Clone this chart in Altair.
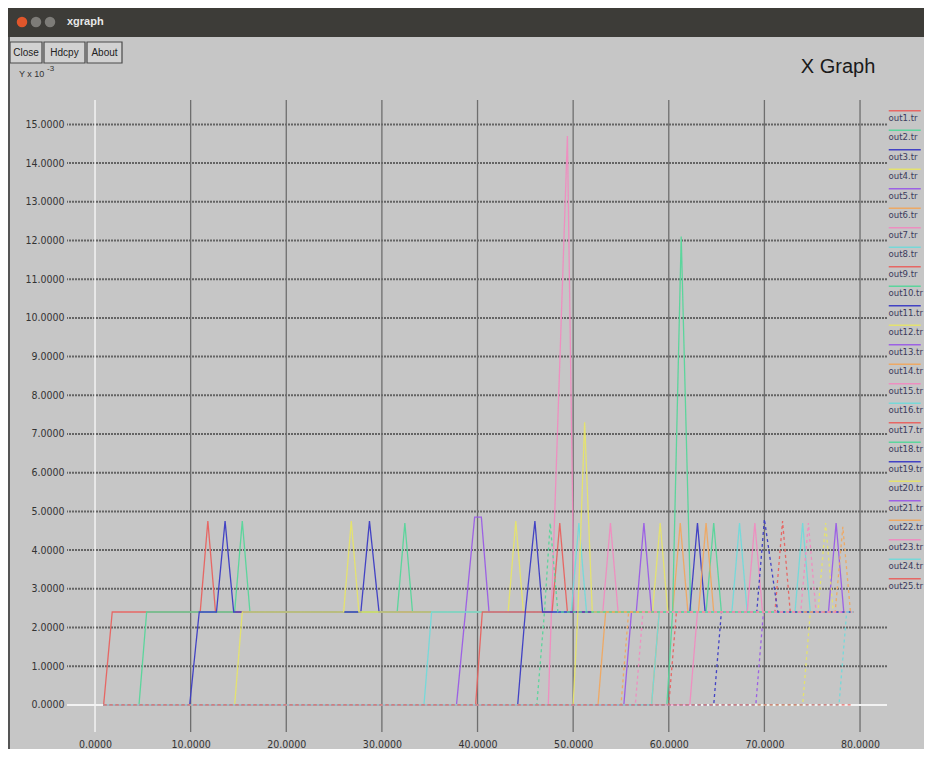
import altair as alt
import pandas as pd

# ---------------- data ----------------
series_names = [f"out{i}.tr" for i in range(1, 26)]

out1_x = [0.9, 1.8, 11.0, 11.8, 12.6, 79.3]
out1_y = [0, 2.4, 2.4, 4.75, 2.4, 2.4]
out2_x = [0.9, 4.6, 5.4, 14.6, 15.4, 16.2, 31.6, 32.4, 33.2, 79.3]
out2_y = [0, 0, 2.4, 2.4, 4.75, 2.4, 2.4, 4.7, 2.4, 2.4]
out3_x = [0.9, 9.9, 10.9, 12.7, 13.6, 14.5, 27.8, 28.7, 29.7, 79.3]
out3_y = [0, 0, 2.4, 2.4, 4.75, 2.4, 2.4, 4.75, 2.4, 2.4]
out4_x = [0.9, 14.6, 15.4, 26.0, 26.8, 27.6, 43.2, 44.0, 44.8, 79.3]
out4_y = [0, 0, 2.4, 2.4, 4.75, 2.4, 2.4, 4.75, 2.4, 2.4]
out5_x = [0.9, 37.8, 39.7, 40.4, 41.2, 79.3]
out5_y = [0, 0, 4.85, 4.85, 2.4, 2.4]
out6_x = [0.9, 58.2, 59.0, 60.4, 61.2, 62.0, 79.3]
out6_y = [0, 0, 2.4, 2.4, 4.7, 2.4, 2.4]
out7_x = [0.9, 47.4, 49.4, 50.1, 53.1, 53.9, 54.7, 79.3]
out7_y = [0, 0, 14.7, 2.4, 2.4, 4.7, 2.4, 2.4]
out8_x = [0.9, 34.4, 35.2, 49.8, 50.6, 51.4, 66.6, 67.4, 68.2, 79.3]
out8_y = [0, 0, 2.4, 2.4, 4.7, 2.4, 2.4, 4.7, 2.4, 2.4]
out9_x = [0.9, 39.8, 40.5, 47.8, 48.6, 49.4, 79.3]
out9_y = [0, 0, 2.4, 2.4, 4.7, 2.4, 2.4]
out10_x = [0.9, 59.8, 60.4, 61.3, 62.3, 63.9, 64.7, 65.5, 79.3]
out10_y = [0, 0, 2.4, 12.1, 2.4, 2.4, 4.7, 2.4, 2.4]
out11_x = [0.9, 44.2, 45.0, 46.0, 46.8, 62.2, 63.0, 63.8, 79.3]
out11_y = [0, 0, 2.4, 4.75, 2.4, 2.4, 4.7, 2.4, 2.4]
out12_x = [0.9, 50.0, 50.5, 51.2, 52.0, 58.3, 59.1, 59.9, 79.3]
out12_y = [0, 0, 2.4, 7.3, 2.4, 2.4, 4.7, 2.4, 2.4]
out13_x = [0.9, 55.3, 56.1, 56.6, 57.4, 58.2, 76.7, 77.5, 78.3, 79.3]
out13_y = [0, 0, 2.4, 2.4, 4.7, 2.4, 2.4, 4.7, 2.4, 2.4]
out14_x = [0.9, 52.6, 53.4, 63.1, 63.9, 64.7, 79.3]
out14_y = [0, 0, 2.4, 2.4, 4.7, 2.4, 2.4]
out15_x = [0.9, 62.2, 63.0, 68.2, 69.0, 69.8, 79.3]
out15_y = [0, 0, 2.4, 2.4, 4.7, 2.4, 2.4]
out16_x = [0.9, 58.2, 59.0, 73.2, 74.0, 74.8, 79.3]
out16_y = [0, 0, 2.4, 2.4, 4.7, 2.4, 2.4]
out17_x = [0.9, 60.0, 60.8, 71.1, 71.9, 72.7, 79.3]
out17_y = [0, 0, 2.4, 2.4, 4.75, 2.4, 2.4]
out18_x = [0.9, 46.2, 47.0, 47.6, 48.4, 79.3]
out18_y = [0, 0, 2.4, 4.7, 2.4, 2.4]
out19_x = [0.9, 64.7, 65.5, 69.2, 70.0, 71.4, 79.3]
out19_y = [0, 0, 2.4, 2.4, 4.8, 2.4, 2.4]
out20_x = [0.9, 74.0, 74.8, 75.6, 76.4, 77.2, 79.3]
out20_y = [0, 0, 2.4, 2.4, 4.7, 2.4, 2.4]
out21_x = [0.9, 69.1, 69.9, 79.3]
out21_y = [0, 0, 2.4, 2.4]
out22_x = [0.9, 55.0, 55.8, 77.4, 78.2, 79.0, 79.3]
out22_y = [0, 0, 2.4, 2.4, 4.6, 2.4, 2.4]
out23_x = [0.9, 56.5, 57.3, 73.8, 74.6, 75.4, 79.3]
out23_y = [0, 0, 2.4, 2.4, 4.7, 2.4, 2.4]
out24_x = [0.9, 77.8, 78.6, 79.3]
out24_y = [0, 0, 2.4, 2.4]
out25_x = [0.9, 79.3]
out25_y = [0, 0]

all_x = [out1_x, out2_x, out3_x, out4_x, out5_x, out6_x, out7_x, out8_x, out9_x,
         out10_x, out11_x, out12_x, out13_x, out14_x, out15_x, out16_x, out17_x,
         out18_x, out19_x, out20_x, out21_x, out22_x, out23_x, out24_x, out25_x]
all_y = [out1_y, out2_y, out3_y, out4_y, out5_y, out6_y, out7_y, out8_y, out9_y,
         out10_y, out11_y, out12_y, out13_y, out14_y, out15_y, out16_y, out17_y,
         out18_y, out19_y, out20_y, out21_y, out22_y, out23_y, out24_y, out25_y]

x_ticks = [0, 10, 20, 30, 40, 50, 60, 70, 80]
y_ticks = list(range(0, 16))

palette = ["#e8625f", "#56d69a", "#3b3bc4", "#e6e46a",
           "#9a5ce6", "#f0a860", "#f08cc0", "#72dada"]
colors = [palette[i % 8] for i in range(25)]
dashes = [[1, 0]] * 16 + [[3, 3]] * 9

rows = []
for name, xs, ys in zip(series_names, all_x, all_y):
    for a, b in zip(xs, ys):
        rows.append({"series": name, "t": a, "v": b})
df = pd.DataFrame(rows)

# ---------------- layout ----------------
X_DOM = [-2.93, 82.82]
Y_DOM = [-0.70, 15.63]
xs_ = alt.Scale(domain=X_DOM, nice=False, zero=False)
ys_ = alt.Scale(domain=Y_DOM, nice=False, zero=False)

one = pd.DataFrame({"a": [0]})
FONT = "Liberation Sans"
NARROW = "Liberation Sans Narrow, DejaVu Sans Condensed, Liberation Sans"

x_axis = alt.Axis(values=x_ticks, format=".4f", grid=False, domain=False,
                  ticks=False, title=None, labelFontSize=10.5,
                  labelColor="#333333", labelPadding=7, labelFont=NARROW,
                  labelFlush=False)
y_axis = alt.Axis(values=y_ticks, format=".4f", grid=False, domain=False,
                  ticks=False, title=None, labelFontSize=10.5,
                  labelColor="#333333", labelPadding=3, labelFont=NARROW)

# grid
hgrid = alt.Chart(pd.DataFrame({"y": y_ticks[1:]})).mark_rule(
    color="#646464", strokeWidth=2, strokeDash=[2, 1]
).encode(y=alt.Y("y:Q", scale=ys_, axis=y_axis))
vgrid = alt.Chart(pd.DataFrame({"x": x_ticks[1:]})).mark_rule(
    color="#6e6e6e", strokeWidth=1.3
).encode(x=alt.X("x:Q", scale=xs_, axis=x_axis))
hzero = alt.Chart(pd.DataFrame({"y": [0]})).mark_rule(
    color="#f2f2f2", strokeWidth=2
).encode(y=alt.Y("y:Q", scale=ys_, axis=y_axis))
vzero = alt.Chart(pd.DataFrame({"x": [0]})).mark_rule(
    color="#f2f2f2", strokeWidth=1.5
).encode(x=alt.X("x:Q", scale=xs_, axis=x_axis))

lines = alt.Chart(df).mark_line(strokeWidth=1.3, opacity=0.95).encode(
    x=alt.X("t:Q", scale=xs_, axis=x_axis),
    y=alt.Y("v:Q", scale=ys_, axis=y_axis),
    color=alt.Color("series:N", sort=series_names,
                    scale=alt.Scale(domain=series_names, range=colors),
                    legend=alt.Legend(orient="none", legendX=809, legendY=13,
                                      title=None, symbolType="M4,-3.5H20",
                                      symbolSize=16, symbolStrokeWidth=1.5,
                                      symbolFillColor="transparent",
                                      labelFontSize=9.5, labelColor="#3b3b5c",
                                      labelFont=NARROW, rowPadding=3.5,
                                      labelLimit=0, labelOffset=3,
                                      padding=0, offset=0)),
    strokeDash=alt.StrokeDash("series:N", sort=series_names,
                              scale=alt.Scale(domain=series_names, range=dashes),
                              legend=None),
    detail="series:N",
)

# window chrome (positions relative to the plot origin)
titlebar = alt.Chart(one).mark_rect(color="#3d3c38").encode(
    x=alt.value(-59), x2=alt.value(857), y=alt.value(-92), y2=alt.value(-63))
dots = alt.Chart(pd.DataFrame({"px": [-45, -31, -17],
                               "c": ["#e0562b", "#7d7c78", "#7d7c78"]})).mark_point(
    filled=True, size=110, opacity=1).encode(
    x=alt.X("px:Q", scale=None), y=alt.value(-78), color=alt.Color("c:N", scale=None))
wintitle = alt.Chart(one).mark_text(text="xgraph", align="left", baseline="middle",
                                    color="#e8e8e8", fontSize=11, fontWeight="bold",
                                    font=FONT).encode(x=alt.value(0), y=alt.value(-78))

btn_df = pd.DataFrame({"label": ["Close", "Hdcpy", "About"],
                       "x1": [-57, -23, 20], "x2": [-25, 18, 55]})
btn_df["xc"] = (btn_df["x1"] + btn_df["x2"]) / 2
buttons = alt.Chart(btn_df).mark_rect(fill="#d2d2d2", stroke="#4a4a4a",
                                      strokeWidth=1.2).encode(
    x=alt.X("x1:Q", scale=None), x2="x2:Q", y=alt.value(-58), y2=alt.value(-37))
btn_text = alt.Chart(btn_df).mark_text(fontSize=10, color="#222222", font=FONT,
                                       baseline="middle").encode(
    x=alt.X("xc:Q", scale=None), y=alt.value(-47), text="label:N")

ylab = alt.Chart(one).mark_text(text="Y x 10", align="left", baseline="middle",
                                fontSize=9, color="#333333", font=FONT).encode(
    x=alt.value(-48), y=alt.value(-26))
ylab_exp = alt.Chart(one).mark_text(text="-3", align="left", baseline="middle",
                                    fontSize=8, color="#333333", font=FONT).encode(
    x=alt.value(-20), y=alt.value(-31))
big_title = alt.Chart(one).mark_text(text="X Graph", align="center",
                                     baseline="middle", fontSize=20,
                                     color="#1a1a1a", font=FONT).encode(
    x=alt.value(771), y=alt.value(-33))
left_border = alt.Chart(one).mark_rule(color="#555555", strokeWidth=2).encode(
    x=alt.value(-58), y=alt.value(-63), y2=alt.value(650))

chart = alt.layer(
    hgrid, vgrid, hzero, vzero, lines,
    titlebar, dots, wintitle, buttons, btn_text, ylab, ylab_exp, big_title,
    left_border
).resolve_scale(color="independent").properties(
    width=820, height=632,
    autosize=alt.AutoSizeParams(type="none"),
    padding={"left": 59, "top": 92, "right": 37, "bottom": 17},
    background="#c6c6c6",
).configure_view(stroke=None)

chart.save("out.html", embed_options={"renderer": "svg", "actions": False})
